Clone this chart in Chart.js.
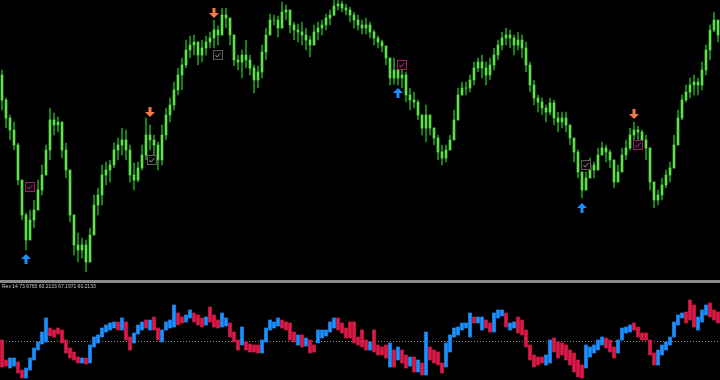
<!DOCTYPE html>
<html>
<head>
<meta charset="utf-8">
<script src="https://cdn.jsdelivr.net/npm/chart.js@4.4.1/dist/chart.umd.min.js"></script>
<style>
body { margin: 0; background: #000; width: 720px; height: 380px; overflow: hidden; position: relative; }
#price { position: absolute; left: 0; top: 0; }
#sep { position: absolute; left: 0; top: 280px; width: 720px; height: 3px; background: #8a8a8a; }
#osc { position: absolute; left: 0; top: 283px; }
#label { position: absolute; left: 2px; top: 283px; font: 5px 'Liberation Sans', Arial, sans-serif; color: #c8c8c8; white-space: nowrap; }
</style>
</head>
<body>
<canvas id="price" width="720" height="280"></canvas>
<div id="sep"></div>
<canvas id="osc" width="720" height="97"></canvas>
<div id="label">Rex 14 73.6765 60.2133 67.1971 60.2133</div>
<script>
// price bars (points above chart base)
var opens = [
    225,200,182,170,155,120,85,60,80,90,
    110,125,150,180,175,178,150,130,85,55,
    50,55,38,65,95,105,125,130,135,150,
    155,160,150,125,120,132,145,165,160,155,
    140,165,185,195,210,225,235,250,255,258,
    245,252,258,262,270,265,285,282,265,240,
    238,245,240,232,220,228,248,265,280,280,
    272,288,290,275,270,268,265,260,255,268,
    272,275,282,285,294,296,292,290,285,280,
    275,272,275,268,262,258,254,242,222,230,
    222,225,205,200,198,185,172,185,172,162,
    148,142,150,160,180,205,212,212,220,232,
    238,232,225,235,245,255,262,265,262,255,
    260,252,235,215,202,198,192,188,197,182,
    178,182,175,162,148,128,110,122,135,130,
    145,152,148,140,118,128,145,152,165,170,
    168,160,152,118,100,105,115,125,132,155,
    182,200,208,215,218,215,230,250,270,280
];
var highs = [
    230,202,185,178,157,120,87,90,100,120,
    135,155,192,187,183,172,157,125,80,67,
    62,60,72,105,112,135,138,140,157,162,
    172,170,155,137,138,155,182,175,165,158,
    175,192,202,218,232,242,260,264,265,255,
    260,264,268,280,274,292,292,282,255,245,
    250,260,245,235,234,255,272,286,285,284,
    298,295,288,278,276,278,272,264,275,278,
    280,286,290,300,300,299,296,293,288,285,
    280,282,278,270,264,260,254,242,242,232,
    230,228,212,208,200,185,195,185,172,165,
    155,155,165,190,212,218,218,225,238,242,
    245,238,242,252,260,268,272,270,265,268,
    265,258,238,220,205,202,195,202,200,188,
    188,188,172,162,150,125,128,142,138,152,
    158,155,150,135,135,152,160,172,178,174,
    170,165,150,115,110,122,130,138,165,190,
    205,215,222,225,222,238,255,275,288,272
];
var lows = [
    190,172,160,150,115,80,50,65,72,95,
    105,125,140,165,168,142,122,78,45,38,
    42,28,42,68,85,95,115,118,132,140,
    145,140,118,110,118,130,140,150,145,130,
    135,160,178,190,205,210,232,242,245,235,
    238,245,252,252,255,270,272,255,234,230,
    222,232,225,207,212,222,240,265,275,263,
    275,280,267,260,258,255,250,243,255,260,
    265,270,275,284,290,288,285,278,272,270,
    266,266,262,255,252,248,235,215,216,215,
    212,198,190,192,180,165,158,165,155,140,
    135,138,150,160,185,205,205,208,215,228,
    222,215,220,230,240,250,255,252,245,250,
    242,228,208,195,188,185,178,185,175,168,
    172,168,155,138,122,102,112,125,122,132,
    145,138,132,112,118,130,140,150,160,158,
    152,140,110,92,95,100,112,118,132,160,
    180,198,202,205,205,210,225,240,268,258
];
var closes = [
    200,182,170,155,120,85,60,80,90,110,
    125,150,180,175,178,150,130,85,55,50,
    55,38,65,95,105,125,130,135,150,155,
    160,150,125,120,132,145,165,160,155,140,
    165,185,195,210,225,235,250,255,258,245,
    252,258,262,270,265,285,282,265,240,238,
    245,240,232,220,228,248,265,280,280,272,
    288,290,275,270,268,265,260,255,268,272,
    275,282,285,294,296,292,290,285,280,275,
    272,275,268,262,258,254,242,222,230,222,
    225,205,200,198,185,172,185,172,162,148,
    142,150,160,180,205,212,212,220,232,238,
    232,225,235,245,255,262,265,262,255,260,
    252,235,215,202,198,192,188,197,182,178,
    182,175,162,148,128,110,122,135,130,145,
    152,148,140,118,128,145,152,165,170,168,
    160,152,118,100,105,115,125,132,155,182,
    200,208,215,218,215,230,250,270,280,265
];

// signal markers: bar index + price
var buyBars = [6, 99, 145];
var buyPrices = [41, 207, 92];
var sellBars = [37, 53, 158];
var sellPrices = [188, 287, 186];
var magentaBars = [7, 100, 159];
var magentaPrices = [113, 235, 155];
var grayBars = [37.5, 54, 146];
var grayPrices = [140, 245, 135];

// Rex oscillator
var indOpen = [
    51,31,23,25,29,21,13,21,31,41,
    47,49,63,61,63,61,51,43,39,34,
    28,33,28,44,48,54,59,61,63,69,
    61,69,54,48,57,61,71,61,74,63,
    49,61,63,64,78,74,69,73,78,76,
    73,66,84,76,71,64,65,68,59,51,
    46,49,47,46,46,38,49,61,63,65,
    71,69,68,59,46,56,45,51,46,48,
    53,55,59,63,73,68,63,69,69,54,
    61,51,41,61,46,44,46,24,41,31,
    41,36,25,34,19,28,16,44,41,39,
    28,24,39,54,56,61,63,54,74,68,
    61,71,68,59,73,75,78,61,63,74,
    71,61,46,36,34,34,26,28,53,49,
    48,46,41,38,31,26,23,34,38,41,
    46,53,51,44,38,51,58,59,68,64,
    58,58,51,38,26,36,41,46,54,66,
    73,79,91,86,61,69,76,88,81,79
];
var indClose = [
    24,25,33,33,18,13,23,33,43,49,
    59,73,55,54,57,48,38,33,31,28,
    33,27,46,54,56,63,66,68,69,61,
    73,51,41,58,66,69,63,71,61,51,
    61,69,71,86,66,68,76,81,69,66,
    64,74,69,64,63,78,73,54,49,41,
    64,41,39,39,38,51,63,71,69,73,
    63,61,51,49,56,44,53,38,39,61,
    61,61,69,73,61,58,53,53,48,46,
    44,41,49,39,36,36,33,48,24,44,
    28,23,34,19,31,16,59,31,28,26,
    18,48,56,63,64,68,68,78,68,74,
    74,63,59,78,81,81,64,68,69,58,
    56,44,31,24,26,28,36,51,39,33,
    36,31,26,19,14,13,46,44,46,51,
    54,43,39,33,51,63,64,66,61,54,
    51,51,36,26,41,46,49,54,69,76,
    78,68,71,64,74,81,86,74,71,68
];
var indLevel = 50;

function makeArrow(up, colour) {
    var c = document.createElement('canvas');
    c.width = 10; c.height = 10;
    var g = c.getContext('2d');
    g.fillStyle = colour;
    g.beginPath();
    if (up) {
        g.moveTo(0, 5); g.lineTo(5, 0); g.lineTo(10, 5);
        g.closePath(); g.fill();
        g.fillRect(3.5, 5, 3, 5);
    } else {
        g.moveTo(0, 5); g.lineTo(5, 10); g.lineTo(10, 5);
        g.closePath(); g.fill();
        g.fillRect(3.5, 0, 3, 5);
    }
    return c;
}

function makeBox(border, tick) {
    var c = document.createElement('canvas');
    c.width = 10; c.height = 10;
    var g = c.getContext('2d');
    g.fillStyle = '#0a0a0a';
    g.fillRect(0, 0, 10, 10);
    g.strokeStyle = border;
    g.lineWidth = 1;
    g.strokeRect(0.5, 0.5, 9, 9);
    g.strokeStyle = tick;
    g.beginPath();
    g.moveTo(2.5, 5); g.lineTo(4, 7); g.lineTo(7.5, 3);
    g.stroke();
    return c;
}

function points(xs, ys) {
    return xs.map((x, i) => ({x: x, y: ys[i]}));
}

var xScale = { type: 'linear', min: -0.5, max: closes.length - 0.5, offset: false, display: false };

new Chart(document.getElementById('price').getContext('2d'), {
    type: 'bar',
    data: {
        datasets: [
            {
                type: 'scatter', order: 0, data: points(buyBars, buyPrices),
                pointStyle: makeArrow(true, '#1e8fff'), pointRadius: 5
            },
            {
                type: 'scatter', order: 0, data: points(sellBars, sellPrices),
                pointStyle: makeArrow(false, '#f5784a'), pointRadius: 5
            },
            {
                type: 'scatter', order: 0, data: points(magentaBars, magentaPrices),
                pointStyle: makeBox('#a8186e', '#c02080'), pointRadius: 5
            },
            {
                type: 'scatter', order: 0, data: points(grayBars, grayPrices),
                pointStyle: makeBox('#5c5c5c', '#8a8a8a'), pointRadius: 5
            },
            {
                order: 1, grouped: false, barThickness: 2,
                backgroundColor: '#5ee04a',
                data: closes.map((c, i) => ({x: i, y: [opens[i], c]}))
            },
            {
                order: 2, grouped: false, barThickness: 1,
                backgroundColor: '#1c9a1c',
                data: closes.map((c, i) => ({
                    x: i,
                    y: [Math.min(lows[i], opens[i], c), Math.max(highs[i], opens[i], c)]
                }))
            }
        ]
    },
    options: {
        responsive: false,
        animation: false,
        devicePixelRatio: 1,
        layout: { padding: 0, autoPadding: false },
        plugins: { legend: { display: false }, tooltip: { enabled: false } },
        scales: {
            x: xScale,
            y: { min: 20, max: 300, display: false }
        }
    }
});

var levelLine = {
    id: 'levelLine',
    beforeDatasetsDraw: function (chart) {
        var y = Math.round(chart.scales.y.getPixelForValue(indLevel)) + 0.5;
        var g = chart.ctx;
        g.save();
        g.strokeStyle = '#8c8c8c';
        g.lineWidth = 1;
        g.setLineDash([1, 2]);
        g.beginPath();
        g.moveTo(0, y); g.lineTo(chart.width, y);
        g.stroke();
        g.restore();
    }
};

new Chart(document.getElementById('osc').getContext('2d'), {
    type: 'bar',
    data: {
        datasets: [{
            barThickness: 3,
            backgroundColor: indClose.map((c, i) => c >= indOpen[i] ? '#1e8fff' : '#dc1a48'),
            data: indClose.map((c, i) => ({x: i, y: [indOpen[i], c]}))
        }]
    },
    options: {
        responsive: false,
        animation: false,
        devicePixelRatio: 1,
        layout: { padding: 0, autoPadding: false },
        plugins: { legend: { display: false }, tooltip: { enabled: false } },
        scales: {
            x: xScale,
            y: { min: 11, max: 108, display: false }
        }
    },
    plugins: [levelLine]
});
</script>
</body>
</html>
